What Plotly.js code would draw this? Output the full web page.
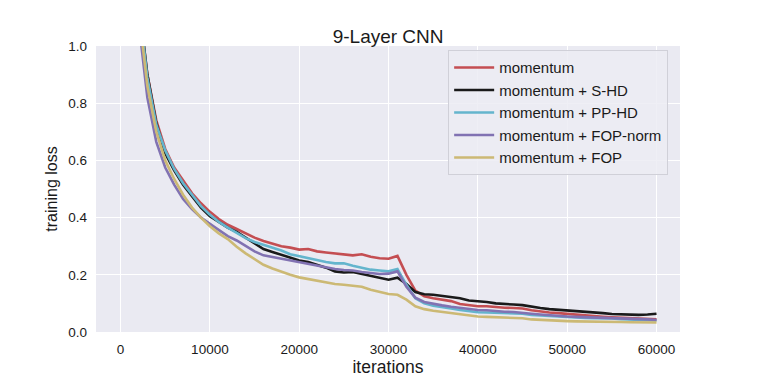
<!DOCTYPE html>
<html>
<head>
<meta charset="utf-8">
<script src="https://cdn.plot.ly/plotly-3.0.1.min.js"></script>
<style>
  html, body { margin: 0; padding: 0; background: #fff; }
  #chart { width: 761px; height: 381px; }
</style>
</head>
<body>
<div id="chart"></div>
<script>
var iters = [2000, 3000, 4000, 5000, 6000, 7000, 8000, 9000, 10000,
  11000, 12000, 13000, 14000, 15000, 16000, 17000, 18000, 19000, 20000,
  21000, 22000, 23000, 24000, 25000, 26000, 27000, 28000, 29000, 30000,
  31000, 32000, 33000, 34000, 35000, 36000, 37000, 38000, 39000, 40000,
  41000, 42000, 43000, 44000, 45000, 46000, 47000, 48000, 49000, 50000,
  51000, 52000, 53000, 54000, 55000, 56000, 57000, 58000, 59000, 60000];

var momentum = [1.16, 0.90, 0.74, 0.64, 0.575, 0.53, 0.485, 0.45, 0.42,
  0.395, 0.375, 0.36, 0.345, 0.33, 0.318, 0.31, 0.30, 0.295, 0.288,
  0.29, 0.282, 0.278, 0.275, 0.272, 0.268, 0.272, 0.263, 0.258, 0.256,
  0.266, 0.20, 0.145, 0.125, 0.118, 0.112, 0.108, 0.098, 0.095, 0.09,
  0.09, 0.087, 0.085, 0.084, 0.082, 0.076, 0.071, 0.068, 0.066, 0.063,
  0.061, 0.058, 0.056, 0.053, 0.051, 0.05, 0.049, 0.047, 0.046, 0.044];

var sHD = [1.16, 0.90, 0.73, 0.625, 0.565, 0.515, 0.475, 0.435, 0.405,
  0.385, 0.365, 0.35, 0.33, 0.308, 0.29, 0.28, 0.27, 0.258, 0.25,
  0.245, 0.235, 0.225, 0.212, 0.208, 0.21, 0.203, 0.198, 0.19, 0.183,
  0.19, 0.168, 0.14, 0.132, 0.13, 0.126, 0.122, 0.118, 0.11, 0.108,
  0.105, 0.1, 0.097, 0.096, 0.094, 0.088, 0.084, 0.08, 0.078, 0.075,
  0.073, 0.07, 0.068, 0.066, 0.063, 0.062, 0.06, 0.06, 0.061, 0.064];

var ppHD = [1.16, 0.89, 0.725, 0.635, 0.57, 0.52, 0.48, 0.44, 0.41,
  0.385, 0.365, 0.345, 0.328, 0.315, 0.305, 0.295, 0.285, 0.272, 0.265,
  0.26, 0.252, 0.245, 0.24, 0.24, 0.232, 0.225, 0.218, 0.215, 0.212,
  0.22, 0.165, 0.118, 0.1, 0.092, 0.088, 0.082, 0.077, 0.072, 0.069,
  0.068, 0.067, 0.066, 0.065, 0.064, 0.06, 0.058, 0.055, 0.053, 0.051,
  0.05, 0.049, 0.048, 0.048, 0.047, 0.045, 0.044, 0.043, 0.042, 0.04];

var fopNorm = [1.09, 0.82, 0.665, 0.575, 0.515, 0.465, 0.43, 0.40, 0.378,
  0.355, 0.335, 0.32, 0.3, 0.282, 0.268, 0.262, 0.255, 0.248, 0.243,
  0.238, 0.232, 0.226, 0.22, 0.217, 0.215, 0.21, 0.207, 0.203, 0.204,
  0.212, 0.158, 0.12, 0.105, 0.098, 0.093, 0.088, 0.084, 0.08, 0.077,
  0.076, 0.073, 0.071, 0.07, 0.068, 0.064, 0.061, 0.058, 0.056, 0.054,
  0.053, 0.052, 0.051, 0.05, 0.05, 0.048, 0.046, 0.045, 0.044, 0.042];

var fop = [1.13, 0.86, 0.70, 0.60, 0.535, 0.48, 0.435, 0.40, 0.37,
  0.345, 0.325, 0.298, 0.275, 0.255, 0.235, 0.222, 0.21, 0.2, 0.191,
  0.185, 0.18, 0.175, 0.168, 0.165, 0.162, 0.158, 0.148, 0.14, 0.133,
  0.13, 0.113, 0.09, 0.08, 0.074, 0.07, 0.065, 0.06, 0.056, 0.054,
  0.053, 0.052, 0.051, 0.05, 0.048, 0.044, 0.042, 0.04, 0.039, 0.038,
  0.037, 0.037, 0.036, 0.036, 0.036, 0.035, 0.034, 0.034, 0.034, 0.033];

var names = ['momentum', 'momentum + S-HD', 'momentum + PP-HD', 'momentum + FOP-norm', 'momentum + FOP'];
var colors = ['#C44E52', '#1A1A1A', '#64B5CD', '#8172B2', '#CCB974'];
var series = [momentum, sHD, ppHD, fopNorm, fop];

var data = series.map(function(s, i) {
  return {
    x: iters,
    y: s,
    type: 'scatter',
    mode: 'lines',
    name: names[i],
    line: {color: colors[i], width: 2.6}
  };
});

var font = 'Liberation Sans, Arial, sans-serif';
var layout = {
  width: 761,
  height: 381,
  margin: {l: 96, r: 81, t: 46, b: 49},
  paper_bgcolor: '#ffffff',
  plot_bgcolor: '#EAEAF2',
  font: {family: font, size: 13.5, color: '#1a1a1a'},
  title: {text: '9-Layer CNN', font: {family: font, size: 19, color: '#1a1a1a'}, x: 0.51, xanchor: 'center', y: 0.905, yanchor: 'middle'},
  xaxis: {
    range: [-2750, 62630],
    tickvals: [0, 10000, 20000, 30000, 40000, 50000, 60000],
    ticktext: ['0', '10000', '20000', '30000', '40000', '50000', '60000'],
    showgrid: true, gridcolor: '#ffffff', gridwidth: 1,
    zeroline: false, showline: false, ticks: '',
    tickfont: {size: 13.5}, ticklabelstandoff: 7,
    title: {text: 'iterations', font: {size: 17.5}, standoff: 1}
  },
  yaxis: {
    range: [0, 1],
    tickvals: [0, 0.2, 0.4, 0.6, 0.8, 1.0],
    ticktext: ['0.0', '0.2', '0.4', '0.6', '0.8', '1.0'],
    showgrid: true, gridcolor: '#ffffff', gridwidth: 1,
    zeroline: false, showline: false, ticks: '',
    tickfont: {size: 13.5}, ticklabelstandoff: 8,
    title: {text: 'training loss', font: {size: 16}, standoff: 6}
  },
  legend: {
    x: 0.603, y: 0.985, xanchor: 'left', yanchor: 'top',
    bgcolor: 'rgba(236,236,243,0.85)',
    bordercolor: '#D0D0D8', borderwidth: 1,
    font: {family: font, size: 15, color: '#1a1a1a'},
    itemwidth: 40
  },
  showlegend: true
};

Plotly.newPlot('chart', data, layout, {displayModeBar: false, staticPlot: true});
</script>
</body>
</html>
